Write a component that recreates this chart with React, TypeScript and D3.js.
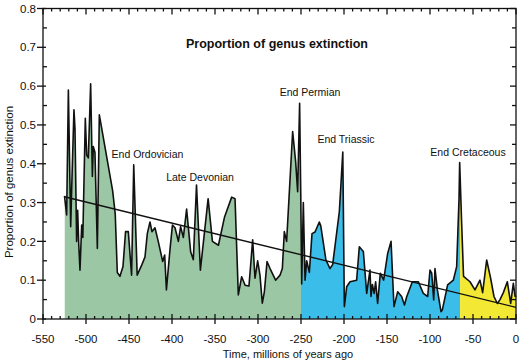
import React, { useEffect, useRef } from 'react';
import * as d3 from 'd3';

// time (Ma, negative = ago) and proportion of genera going extinct
const times = [
  -525, -522.5, -520.5, -517.8, -516.7, -514, -512.8, -510.9, -509.7, -508.5, -507, -505, -503.7,
  -500.8, -499.2, -497.3, -494.6, -492.6, -491.5, -489.6, -486.8, -484.5, -469, -466, -463.6,
  -460.5, -457, -454, -450.8, -447, -444.5, -440.5, -435, -431.4, -428.7, -425.6, -423.3, -419.8,
  -416, -410.8, -408.5, -406.5, -402.3, -399.5, -396.5, -392.6, -390, -386.8, -383, -378.3, -375.2,
  -371.5, -367, -358, -353, -346, -339, -330.6, -326.7, -322.9, -319, -315, -310.5, -306.2, -303.5,
  -300.4, -297.7, -295, -292.6, -289.5, -286, -279.5, -274.4, -271.7, -269.4, -266.7, -259.7,
  -256.2, -253.9, -251.6, -250.3, -249.2, -247.3, -245.3, -243.4, -240.3, -237.2, -233.7, -228.7,
  -227, -221, -216.3, -213.2, -205.4, -201.4, -199.6, -196.9, -193, -185.3, -182.2, -177.5, -173.6,
  -169.8, -168.6, -167, -165, -163.2, -160.9, -157.8, -153.9, -149.2, -145.3, -141.9, -137.6, -133,
  -129.7, -127, -120.5, -113.5, -107.8, -102.7, -100, -98, -95.7, -94.2, -91.4, -87.2, -85.7, -79.5,
  -72.9, -69, -66.3, -65.5, -63.2, -61, -53.5, -47.7, -41.9, -38.8, -34.1, -29.5, -25.6, -21.7,
  -18.6, -14.7, -10.1, -6.2, -3.1, -1, 0,
];
const extinction = [
  0.317, 0.268, 0.59, 0.238, 0.332, 0.539, 0.49, 0.2, 0.28, 0.196, 0.126, 0.242, 0.21,
  0.517, 0.422, 0.415, 0.606, 0.367, 0.444, 0.43, 0.182, 0.526, 0.33, 0.27, 0.12,
  0.11, 0.135, 0.225, 0.225, 0.113, 0.397, 0.113, 0.14, 0.16, 0.22, 0.25, 0.225, 0.235,
  0.2, 0.148, 0.165, 0.075, 0.18, 0.242, 0.235, 0.2, 0.238, 0.21, 0.283, 0.173, 0.153,
  0.345, 0.126, 0.31, 0.2, 0.19, 0.262, 0.314, 0.31, 0.062, 0.109, 0.087, 0.085, 0.204, 0.105,
  0.15, 0.113, 0.041, 0.07, 0.148, 0.13, 0.1, 0.113, 0.13, 0.225, 0.2, 0.483,
  0.405, 0.328, 0.556, 0.325, 0.09, 0.3, 0.1, 0.15, 0.12, 0.22, 0.224, 0.25,
  0.24, 0.152, 0.13, 0.14, 0.277, 0.43, 0.032, 0.083, 0.096, 0.1, 0.186, 0.174, 0.066,
  0.126, 0.058, 0.089, 0.066, 0.096, 0.04, 0.118, 0.1, 0.169, 0.2, 0.032, 0.07, 0.058,
  0.036, 0.058, 0.096, 0.096, 0.066, 0.058, 0.126, 0.118, 0.049, 0.13, 0.075, 0.019, 0.023, 0.088,
  0.1, 0.135, 0.307, 0.403, 0.247, 0.11, 0.096, 0.075, 0.1, 0.068, 0.152, 0.105, 0.058, 0.04,
  0.05, 0.068, 0.096, 0.04, 0.092, 0.058, 0.06,
];

// fitted trend line end points
const trendTimes = [-525, 0];
const trendValues = [0.315, 0.03];

// coloured eras: start, end, fill
const eraStarts = [-525, -250, -65];
const eraEnds = [-250, -65, 0];
const eraColors = ['#9cc7a5', '#3bbde9', '#f3e934'];

const events = ['End Ordovician', 'Late Devonian', 'End Permian', 'End Triassic', 'End Cretaceous'];
const eventTimes = [-428.5, -367.4, -239.5, -197.7, -55.8];
const eventValues = [0.415, 0.356, 0.575, 0.454, 0.419];

const xTicks = [-550, -500, -450, -400, -350, -300, -250, -200, -150, -100, -50, 0];
const yTicks = [0, 0.1, 0.2, 0.3, 0.4, 0.5, 0.6, 0.7, 0.8];

const font = '"Liberation Sans", Arial, sans-serif';

export default function App() {
  const svgRef = useRef<SVGSVGElement>(null);

  useEffect(() => {
    if (!svgRef.current) return;
    const W = 520;
    const H = 363;
    const margin = { top: 8.5, right: 4, bottom: 44, left: 43 };

    const svg = d3.select(svgRef.current);
    svg.selectAll('*').remove();
    svg.attr('width', W).attr('height', H);

    const x = d3.scaleLinear().domain([-550, 0]).range([margin.left, W - margin.right]);
    const y = d3.scaleLinear().domain([0, 0.8]).range([H - margin.bottom, margin.top]);

    const data = times.map((t, i) => ({ t, v: extinction[i] }));

    const defs = svg.append('defs');
    eraStarts.forEach((s, i) => {
      defs
        .append('clipPath')
        .attr('id', `era${i}`)
        .append('rect')
        .attr('x', x(s))
        .attr('y', y(0.8))
        .attr('width', x(eraEnds[i]) - x(s))
        .attr('height', y(0) - y(0.8));
    });

    const area = d3
      .area<{ t: number; v: number }>()
      .x(d => x(d.t))
      .y0(y(0))
      .y1(d => y(d.v));

    eraColors.forEach((c, i) => {
      svg
        .append('path')
        .datum(data)
        .attr('clip-path', `url(#era${i})`)
        .attr('fill', c)
        .attr('d', area);
    });

    const line = d3
      .line<{ t: number; v: number }>()
      .x(d => x(d.t))
      .y(d => y(d.v));

    svg
      .append('path')
      .datum(data)
      .attr('fill', 'none')
      .attr('stroke', '#111')
      .attr('stroke-width', 1.6)
      .attr('stroke-linejoin', 'round')
      .attr('d', line);

    // trend
    svg
      .append('path')
      .datum(trendTimes.map((t, i) => ({ t, v: trendValues[i] })))
      .attr('fill', 'none')
      .attr('stroke', '#111')
      .attr('stroke-width', 1.4)
      .attr('d', line);

    // frame
    const x0 = x(-550);
    const x1 = x(0);
    const y0 = y(0);
    const y1 = y(0.8);
    const frame = svg.append('g').attr('stroke', '#111').attr('stroke-width', 1.3).attr('fill', 'none');
    frame.append('rect').attr('x', x0).attr('y', y1).attr('width', x1 - x0).attr('height', y0 - y1);

    // x ticks
    const minorX = d3.range(-550, 1, 10);
    minorX.forEach(t => {
      const major = t % 50 === 0;
      frame.append('line').attr('x1', x(t)).attr('x2', x(t)).attr('y1', y0).attr('y2', y0 - (major ? 5 : 3));
      frame.append('line').attr('x1', x(t)).attr('x2', x(t)).attr('y1', y1).attr('y2', y1 + (major ? 6 : 3));
    });
    xTicks.forEach(t => {
      frame.append('line').attr('x1', x(t)).attr('x2', x(t)).attr('y1', y0).attr('y2', y0 + 5);
    });

    // y ticks
    const minorY = d3.range(0, 0.801, 0.05);
    minorY.forEach(v => {
      const major = Math.abs(Math.round(v * 10) - v * 10) < 1e-6;
      frame.append('line').attr('x1', x0).attr('x2', x0 + (major ? 3 : 4)).attr('y1', y(v)).attr('y2', y(v));
      frame.append('line').attr('x1', x1).attr('x2', x1 - (major ? 6 : 4)).attr('y1', y(v)).attr('y2', y(v));
    });
    yTicks.forEach(v => {
      frame.append('line').attr('x1', x0 - 6).attr('x2', x0).attr('y1', y(v)).attr('y2', y(v));
    });

    const text = svg.append('g').attr('font-family', font).attr('fill', '#111');

    text
      .selectAll('.xl')
      .data(xTicks)
      .enter()
      .append('text')
      .attr('x', d => x(d))
      .attr('y', 343)
      .attr('text-anchor', 'middle')
      .attr('font-size', 11.5)
      .text(d => String(d));

    text
      .selectAll('.yl')
      .data(yTicks)
      .enter()
      .append('text')
      .attr('x', x0 - 7)
      .attr('y', d => y(d))
      .attr('dy', '0.36em')
      .attr('text-anchor', 'end')
      .attr('font-size', 11.5)
      .text(d => (d === 0 ? '0' : d.toFixed(1)));

    text
      .append('text')
      .attr('x', 288)
      .attr('y', 358)
      .attr('text-anchor', 'middle')
      .attr('font-size', 11)
      .text('Time, millions of years ago');

    text
      .append('text')
      .attr('transform', `translate(13,${182}) rotate(-90)`)
      .attr('text-anchor', 'middle')
      .attr('font-size', 11.5)
      .text('Proportion of genus extinction');

    text
      .append('text')
      .attr('x', 277)
      .attr('y', 48)
      .attr('text-anchor', 'middle')
      .attr('font-size', 12.5)
      .attr('font-weight', 'bold')
      .text('Proportion of genus extinction');

    text
      .selectAll('.ev')
      .data(events)
      .enter()
      .append('text')
      .attr('x', (_d, i) => x(eventTimes[i]))
      .attr('y', (_d, i) => y(eventValues[i]))
      .attr('text-anchor', 'middle')
      .attr('font-size', 10.5)
      .text(d => d);
  }, []);

  return <svg ref={svgRef} style={{ position: 'absolute', left: 0, top: 0 }}></svg>;
}
